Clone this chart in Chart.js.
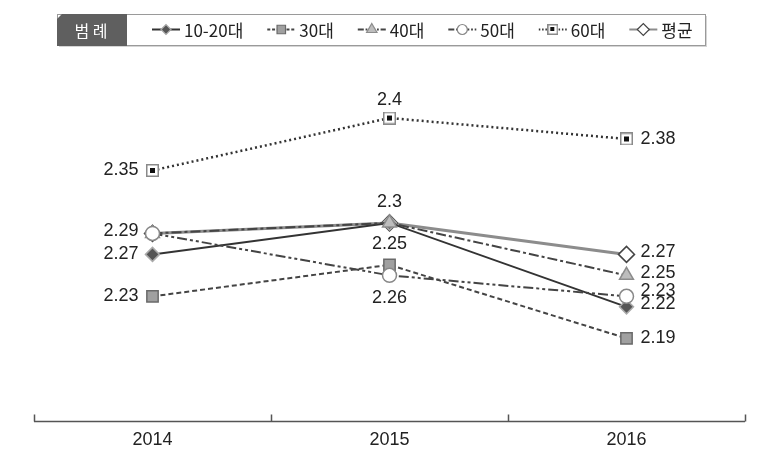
<!DOCTYPE html>
<html>
<head>
<meta charset="utf-8">
<script src="https://cdn.jsdelivr.net/npm/chart.js@4.4.1/dist/chart.umd.min.js"></script>
<style>
  html, body { margin: 0; padding: 0; background: #fff; }
</style>
</head>
<body>
<canvas id="chart" width="757" height="465"></canvas>
<script>
// Data
const years = ["2014", "2015", "2016"];
const seriesNames = ["10-20대", "30대", "40대", "50대", "60대", "평균"];
const age1020 = [2.27, 2.3, 2.22];
const age30 = [2.23, 2.26, 2.19];
const age40 = [2.29, 2.3, 2.25];
const age50 = [2.29, 2.25, 2.23];
const age60 = [2.35, 2.4, 2.38];
const average = [2.29, 2.3, 2.27];

// small boxed-dot marker for the 60대 series
const boxedDot = (size) => {
  const c = document.createElement("canvas");
  c.width = size; c.height = size;
  const g = c.getContext("2d");
  g.fillStyle = "#fff";
  g.fillRect(0, 0, size, size);
  g.strokeStyle = "#8a8a8a";
  g.lineWidth = 1.5;
  g.strokeRect(0.75, 0.75, size - 1.5, size - 1.5);
  const inner = Math.round(size * 0.4);
  const off = Math.floor((size - inner) / 2);
  g.fillStyle = "#111";
  g.fillRect(off, off, inner, inner);
  return c;
};

const dotBig = boxedDot(13);
const dotSmall = boxedDot(11);

const seriesValues = [age1020, age30, age40, age50, age60, average];

const styles = [
  { color: "#333", width: 2, dash: [], point: "rectRot", radius: 7, fill: "#555", border: "#aaa", order: 2 },
  { color: "#444", width: 2, dash: [5, 3], point: "rect", radius: 8, fill: "#a0a0a0", border: "#6a6a6a", order: 3 },
  { color: "#444", width: 2, dash: [10, 3, 3, 3], point: "triangle", radius: 8, fill: "#bdbdbd", border: "#8c8c8c", order: 1 },
  { color: "#444", width: 2, dash: [10, 3, 3, 3, 3, 3], point: "circle", radius: 7, fill: "#fff", border: "#888", order: 0 },
  { color: "#333", width: 2.5, dash: [2, 3], point: dotBig, legendPoint: dotSmall, radius: 7, fill: "#fff", border: "#888", order: 4 },
  { color: "#8c8c8c", width: 3, dash: [], point: "rectRot", radius: 8, fill: "#fff", border: "#444", order: 5 }
];

// label placement per series / per year: [align, dx, dy] or null
const labelPlacement = [
  [["right", -14, 0], ["center", 0, -21], ["left", 14, -3]],
  [["right", -14, 0], ["center", 0, 33], ["left", 14, 0]],
  [["right", -14, -2], null, ["left", 14, -2]],
  [null, ["center", 0, -31], ["left", 14, -5]],
  [["right", -14, 0], ["center", 0, -18], ["left", 14, 0]],
  [null, null, ["left", 14, -2]]
];

const pointLabels = {
  id: "pointLabels",
  afterDatasetsDraw(chart) {
    const ctx = chart.ctx;
    ctx.save();
    ctx.font = "18px 'Liberation Sans', Arial, sans-serif";
    ctx.fillStyle = "#222";
    ctx.textBaseline = "middle";
    chart.data.datasets.forEach((ds, i) => {
      const meta = chart.getDatasetMeta(i);
      meta.data.forEach((pt, j) => {
        const p = labelPlacement[i][j];
        if (!p) return;
        ctx.textAlign = p[0];
        ctx.fillText(String(ds.data[j]), pt.x + p[1], pt.y + p[2]);
      });
    });
    ctx.restore();
  }
};

const baseAxis = {
  id: "baseAxis",
  afterDraw(chart) {
    const ctx = chart.ctx;
    const a = chart.chartArea;
    const n = chart.data.labels.length;
    ctx.save();
    ctx.strokeStyle = "#555";
    ctx.lineWidth = 1.5;
    ctx.beginPath();
    ctx.moveTo(a.left, a.bottom);
    ctx.lineTo(a.right, a.bottom);
    for (let i = 0; i <= n; i++) {
      const x = Math.round(a.left + (a.right - a.left) * i / n) + 0.5;
      ctx.moveTo(x, a.bottom);
      ctx.lineTo(x, a.bottom - 7);
    }
    ctx.stroke();
    ctx.restore();
  }
};

const boxLegend = {
  id: "boxLegend",
  afterDraw(chart) {
    const ctx = chart.ctx;
    const left = 57, top = 14, right = 705, bottom = 45;
    const cy = (top + bottom) / 2;
    ctx.save();
    // shadow
    ctx.fillStyle = "#d5d5d5";
    ctx.fillRect(left + 2, top + 2, right - left, bottom - top);
    ctx.fillStyle = "#fff";
    ctx.fillRect(left, top, right - left, bottom - top);
    ctx.strokeStyle = "#9a9a9a";
    ctx.lineWidth = 1;
    ctx.strokeRect(left + 0.5, top + 0.5, right - left, bottom - top);
    // tab
    ctx.fillStyle = "#5f5f5f";
    ctx.beginPath();
    ctx.moveTo(left + 5, top);
    ctx.lineTo(127, top);
    ctx.lineTo(127, bottom + 1);
    ctx.lineTo(left, bottom + 1);
    ctx.lineTo(left, top + 5);
    ctx.closePath();
    ctx.fill();
    ctx.fillStyle = "#fff";
    ctx.font = "16px 'Noto Sans CJK KR', sans-serif";
    ctx.textAlign = "center";
    ctx.textBaseline = "middle";
    ctx.fillText("범 례", 91, cy + 1);

    // items
    ctx.font = "17px 'Noto Sans CJK KR', sans-serif";
    ctx.textAlign = "left";
    let x = 152;
    chart.data.datasets.forEach((ds, i) => {
      const s = styles[i];
      ctx.save();
      ctx.strokeStyle = s.color;
      ctx.lineWidth = Math.min(s.width, 2);
      ctx.setLineDash(s.dash.map((d) => Math.max(1.5, d * 0.6)));
      ctx.beginPath();
      ctx.moveTo(x, cy);
      ctx.lineTo(x + 28, cy);
      ctx.stroke();
      ctx.setLineDash([]);
      ctx.fillStyle = s.fill;
      ctx.strokeStyle = s.border;
      ctx.lineWidth = 1.2;
      Chart.helpers.drawPoint(ctx, {
        pointStyle: s.legendPoint || s.point,
        radius: s.radius - 2,
        rotation: 0,
        borderWidth: 1.2
      }, x + 14, cy);
      ctx.restore();
      ctx.fillStyle = "#222";
      ctx.fillText(ds.label, x + 32, cy + 1);
      x += 32 + ctx.measureText(ds.label).width + 24;
    });
    ctx.restore();
  }
};

const datasets = seriesNames.map((name, i) => ({
  label: name,
  data: seriesValues[i],
  borderColor: styles[i].color,
  borderWidth: styles[i].width,
  borderDash: styles[i].dash,
  pointStyle: styles[i].point,
  pointRadius: styles[i].radius,
  pointBackgroundColor: styles[i].fill,
  pointBorderColor: styles[i].border,
  pointBorderWidth: 1.5,
  order: styles[i].order,
  tension: 0,
  fill: false,
  clip: false
}));

new Chart(document.getElementById("chart").getContext("2d"), {
  type: "line",
  data: { labels: years, datasets: datasets },
  options: {
    responsive: false,
    animation: false,
    devicePixelRatio: 1,
    layout: { padding: { left: 34, right: 12, top: 60, bottom: 6 } },
    plugins: {
      legend: { display: false },
      tooltip: { enabled: false }
    },
    scales: {
      x: {
        offset: true,
        grid: { display: false, drawTicks: false },
        border: { display: false },
        ticks: {
          padding: 8,
          color: "#222",
          font: { family: "'Liberation Sans', Arial, sans-serif", size: 18 }
        }
      },
      y: {
        display: false,
        min: 2.1108,
        max: 2.4553
      }
    }
  },
  plugins: [pointLabels, baseAxis, boxLegend]
});
</script>
</body>
</html>
